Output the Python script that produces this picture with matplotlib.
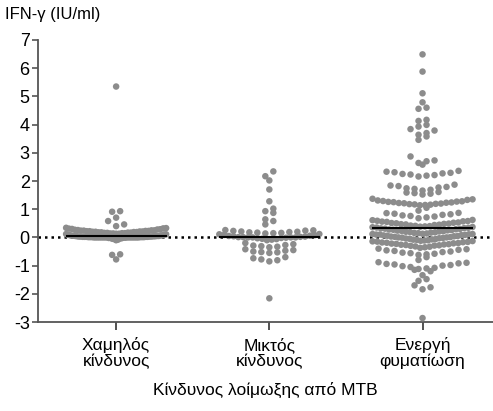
import numpy as np
import matplotlib
matplotlib.use("Agg")
import matplotlib.pyplot as plt

plt.rcParams['font.family'] = ['Liberation Sans', 'DejaVu Sans']
plt.rcParams['axes.unicode_minus'] = False

categories = ["Χαμηλός\nκίνδυνος", "Μικτός\nκίνδυνος", "Ενεργή\nφυματίωση"]
x_label = "Κίνδυνος λοίμωξης από MTB"
y_label = "IFN-γ (IU/ml)"
y_ticks = [-3, -2, -1, 0, 1, 2, 3, 4, 5, 6, 7]

low_risk = [
    -0.10, -0.08, -0.06, -0.05, -0.04, -0.03, -0.02, -0.02, -0.01, -0.01,
    0.00, 0.00, 0.00, 0.00, 0.00, 0.00, 0.00, 0.00, 0.00, 0.00, 0.00, 0.00, 0.00, 0.00, 0.00,
    0.01, 0.01, 0.01, 0.01, 0.01, 0.01, 0.02, 0.02, 0.02, 0.02, 0.02,
    0.03, 0.03, 0.03, 0.03, 0.04, 0.04, 0.04, 0.05, 0.05, 0.05, 0.06, 0.06,
    0.07, 0.07, 0.08, 0.09, 0.10, 0.11, 0.12,
    0.13, 0.13, 0.14, 0.14, 0.15, 0.15, 0.16, 0.16, 0.17, 0.17, 0.18, 0.18,
    0.19, 0.19, 0.20, 0.20, 0.21, 0.21, 0.22, 0.22, 0.23, 0.23, 0.24, 0.24,
    0.25, 0.25, 0.26, 0.27, 0.28, 0.29, 0.30, 0.31, 0.32, 0.33, 0.34,
    0.40, 0.46, 0.58, 0.70, 0.91, 0.93, 5.35,
    -0.60, -0.62, -0.78,
]

mixed_risk = [
    -0.10, -0.08, -0.06, -0.05, -0.03, -0.02, -0.01, 0.00, 0.00, 0.00, 0.00,
    0.01, 0.01, 0.02, 0.03, 0.04, 0.05, 0.06, 0.08, 0.09, 0.11, 0.12,
    0.14, 0.15, 0.16, 0.17, 0.18, 0.19, 0.20, 0.21, 0.23, 0.24, 0.25, 0.26,
    0.46, 0.58, 0.64, 0.87, 0.93, 1.02, 1.28, 1.70, 2.02, 2.17, 2.34,
    -0.20, -0.24, -0.27, -0.29, -0.31, -0.33, -0.35,
    -0.42, -0.45, -0.47, -0.50, -0.52, -0.53, -0.55,
    -0.70, -0.74, -0.78, -0.81, -0.85,
    -2.16,
]

active_tb = [
    6.49, 5.88, 5.11, 4.79, 4.60, 4.56, 4.17, 4.13, 3.99, 3.93, 3.84, 3.79,
    3.70, 3.64, 3.58, 3.46, 2.87, 2.73, 2.70, 2.64, 2.58,
    2.16, 2.19, 2.21, 2.23, 2.25, 2.27, 2.29, 2.31, 2.33, 2.36,
    1.66, 1.69, 1.72, 1.74, 1.77, 1.79, 1.82, 1.84, 1.87,
    1.52, 1.55, 1.57, 1.59, 1.61,
    1.14, 1.15, 1.16, 1.17, 1.18, 1.19, 1.20, 1.21, 1.22, 1.23,
    1.24, 1.25, 1.26, 1.27, 1.28, 1.29, 1.31, 1.33, 1.35, 1.37,
    0.95, 1.05,
    0.68, 0.71, 0.74, 0.76, 0.78, 0.80, 0.82, 0.84, 0.86, 0.87,
    0.38, 0.39, 0.40, 0.41, 0.42, 0.44, 0.45, 0.46, 0.47, 0.48, 0.49,
    0.50, 0.51, 0.52, 0.53, 0.55, 0.56, 0.57, 0.58, 0.59, 0.61, 0.62,
    0.13, 0.14, 0.15, 0.16, 0.17, 0.18, 0.19, 0.20, 0.21, 0.22, 0.23, 0.24,
    0.25, 0.26, 0.27, 0.28, 0.29, 0.30, 0.31, 0.32, 0.33, 0.34, 0.35, 0.36, 0.37,
    -0.12, -0.11, -0.10, -0.09, -0.08, -0.07, -0.06, -0.05, -0.04, -0.03,
    -0.02, -0.01, 0.00, 0.00, 0.01, 0.02, 0.03, 0.04, 0.05, 0.06,
    0.07, 0.08, 0.09, 0.10, 0.10, 0.11, 0.12, 0.12,
    -0.13, -0.14, -0.15, -0.16, -0.17, -0.18, -0.19, -0.20, -0.21, -0.22, -0.23,
    -0.24, -0.25, -0.26, -0.27, -0.28, -0.29, -0.30, -0.32, -0.33, -0.35, -0.37,
    -0.40, -0.42, -0.44, -0.46, -0.48, -0.50, -0.52, -0.54, -0.56, -0.58, -0.60, -0.62,
    -0.70, -0.80,
    -0.88, -0.90, -0.92, -0.94, -0.96, -0.98, -1.00, -1.02, -1.05, -1.08, -1.10, -1.12,
    -1.15, -1.20, -1.34,
    -1.48, -1.54,
    -1.70, -1.77, -1.84,
    -2.86,
]

groups = [low_risk, mixed_risk, active_tb]

W, H, DPI = 4.93, 4.11, 100
fig = plt.figure(figsize=(W, H), dpi=DPI)
ax = fig.add_axes([38 / 493, 1 - 322 / 411, 1 - 38 / 493, (322 - 40) / 411])
ax.set_xlim(-0.51, 2.46)
ax.set_ylim(-3, 7)

# pixel -> data conversions for layout
px_per_x = (ax.get_position().width * W * DPI) / (2.46 + 0.51)
bin_h = 0.25
step = 8.0 / px_per_x
half_w = 50.0 / px_per_x

dot_color = "#8c8c8c"
for gi, vals in enumerate(groups):
    v = np.array(vals, dtype=float)
    bins = np.round(v / bin_h).astype(int)
    xs = np.zeros_like(v)
    for b in np.unique(bins):
        idx = np.where(bins == b)[0]
        n = len(idx)
        order = idx[np.argsort(v[idx], kind="stable")]
        pos = np.arange(n) - (n - 1) / 2.0
        pos_sorted = sorted(pos, key=lambda p: (abs(p), -p if int(abs(p)) % 2 else p))
        dx = step
        if n > 1 and (n - 1) * step > 2 * half_w:
            dx = 2 * half_w / (n - 1)
        for k, i in enumerate(order):
            xs[i] = gi + pos_sorted[k] * dx
    ax.scatter(xs, v, s=22, color=dot_color, edgecolors="none", zorder=3)
    med = np.median(v)
    ax.plot([gi - 0.33, gi + 0.33], [med, med], color="black", lw=1.5, zorder=4,
            solid_capstyle="butt")

ax.axhline(0, color="black", lw=1.8, linestyle=(0, (1, 1.6)), zorder=2)

for s in ["top", "right"]:
    ax.spines[s].set_visible(False)
for s in ["left", "bottom"]:
    ax.spines[s].set_color("#555555")
    ax.spines[s].set_linewidth(1.3)

ax.set_yticks(y_ticks)
ax.set_yticklabels([str(t) for t in y_ticks], fontsize=13)
ax.tick_params(axis="y", length=4, width=1.2, color="#555555", pad=2)
ax.set_xticks(range(len(categories)))
ax.set_xticklabels(categories, fontsize=12.5, linespacing=1.05)
ax.tick_params(axis="x", length=6, width=1.2, color="#333333", pad=5)

ax.set_xlabel(x_label, fontsize=12.5, labelpad=9)
fig.text(5 / 493, 1 - 15 / 411, y_label, fontsize=12, ha="left", va="center")

fig.savefig("out.png", dpi=DPI)
